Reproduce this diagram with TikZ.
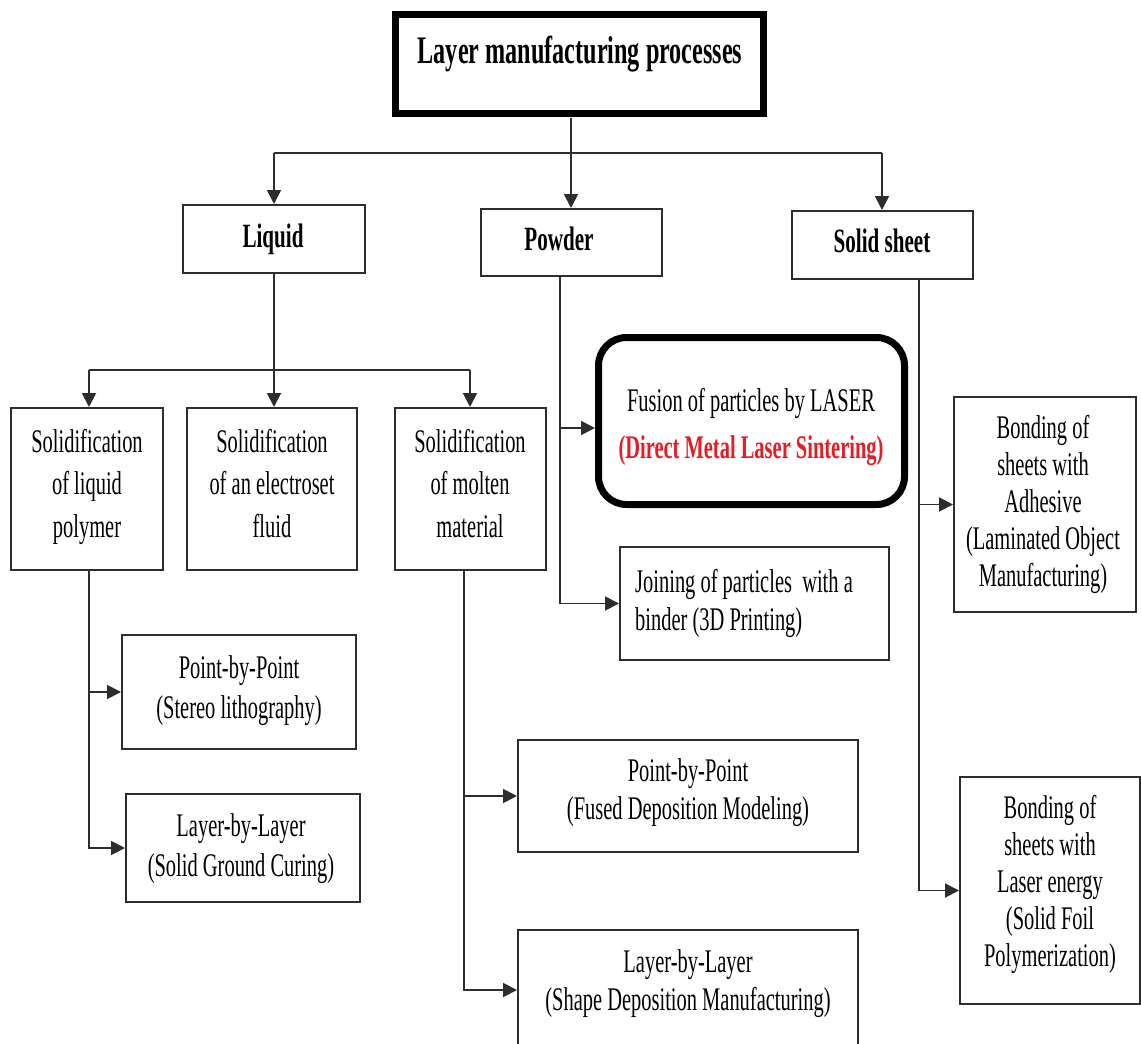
\documentclass[tikz,border=0pt]{standalone}
\usepackage{fontspec}
\setmainfont[FakeStretch=0.62]{Liberation Serif}
\usetikzlibrary{arrows.meta}
\definecolor{dmlsred}{RGB}{230,28,38}
\definecolor{linegray}{RGB}{45,45,45}
\begin{document}
\begin{tikzpicture}[x=1pt,y=-1pt,
  box/.style={draw=linegray, line width=2pt, inner sep=0pt, fill=white},
  heavybox/.style={draw=black, line width=7pt, inner sep=0pt, fill=white},
  conn/.style={draw=linegray, line width=1.9pt},
  arr/.style={conn, -{Triangle[length=14pt,width=14pt]}},
  txt/.style={inner sep=0pt, anchor=base, align=center, font=\fontsize{33}{42.5}\selectfont},
  btxt/.style={inner sep=0pt, anchor=base, align=center, font=\fontsize{34}{42}\selectfont\bfseries},
]
\useasboundingbox (0,0) rectangle (1141,1044);
\fill[white] (0,0) rectangle (1141,1044);
\clip (0,0) rectangle (1141,1044);

% boxes
\node[heavybox, minimum width=368pt, minimum height=99pt] (title) at (579.5,64) {};
\node[box, minimum width=182pt, minimum height=68pt] (liquid) at (274,239) {};
\node[box, minimum width=181pt, minimum height=67pt] (powder) at (571.5,242.5) {};
\node[box, minimum width=181pt, minimum height=68pt] (sheet) at (882.5,245) {};
\node[box, minimum width=152pt, minimum height=162pt] (s1) at (87,489) {};
\node[box, minimum width=170pt, minimum height=162pt] (s2) at (272,489) {};
\node[box, minimum width=151pt, minimum height=162pt] (s3) at (470.5,489) {};
\node[box, minimum width=234pt, minimum height=114pt] (sl) at (239,692) {};
\node[box, minimum width=234pt, minimum height=108pt] (sgc) at (243,848) {};
\node[box, minimum width=340pt, minimum height=112pt] (fdm) at (688,796) {};
\node[box, minimum width=340pt, minimum height=120pt] (sdm) at (688,990) {};
\node[heavybox, rounded corners=28pt, minimum width=306pt, minimum height=167pt] (dmls) at (751.5,421) {};
\node[box, minimum width=269pt, minimum height=113pt] (print) at (754.5,603.5) {};
\node[box, minimum width=182pt, minimum height=215pt] (lam) at (1045,504.5) {};
\node[box, minimum width=180pt, minimum height=227pt] (foil) at (1050,890.5) {};

% texts (anchor base = baseline of the last line)
\node[btxt, font=\fontsize{39}{46}\selectfont\bfseries] (ttitle) at (580,63) {Layer manufacturing processes};
\node[btxt] (tliquid) at (273,247) {Liquid};
\node[btxt] (tpowder) at (559,250) {Powder};
\node[btxt] (tsheet) at (882,252) {Solid sheet};
\node[txt] (ts1) at (87,537) {Solidification\\of liquid\\polymer};
\node[txt] (ts2) at (272,537) {Solidification\\of an electroset\\fluid};
\node[txt] (ts3) at (470,537) {Solidification\\of molten\\material};
\node[txt, font=\fontsize{33}{40}\selectfont] (tsl) at (239,718) {Point-by-Point\\(Stereo lithography)};
\node[txt, font=\fontsize{33}{40}\selectfont] (tsgc) at (241,876) {Layer-by-Layer\\(Solid Ground Curing)};
\node[txt, font=\fontsize{33}{38}\selectfont] (tfdm) at (688,819) {Point-by-Point\\(Fused Deposition Modeling)};
\node[txt, font=\fontsize{33}{38}\selectfont] (tsdm) at (688,1010) {Layer-by-Layer\\(Shape Deposition Manufacturing)};
\node[txt, font=\fontsize{33}{47}\selectfont] (tdmls) at (751,458) {Fusion of particles by LASER\\{\bfseries\color{dmlsred}(Direct Metal Laser Sintering)}};
\node[txt, anchor=base west, align=left, font=\fontsize{33}{38}\selectfont] (tprint) at (635,630) {Joining of particles~ with a\\binder (3D Printing)};
\node[txt, font=\fontsize{33}{37}\selectfont] (tlam) at (1043,586) {Bonding of\\sheets with\\Adhesive\\(Laminated Object\\Manufacturing)};
\node[txt, font=\fontsize{33}{37}\selectfont] (tfoil) at (1050,966) {Bonding of\\sheets with\\Laser energy\\(Solid Foil\\Polymerization)};

% connectors
\coordinate (topdrop) at (571,117.5);
\coordinate (busL) at (274,153);
\coordinate (busR) at (882,153);
\draw[arr] (topdrop) -- (topdrop |- powder.north);
\draw[conn] (busL) -- (busR);
\draw[arr] (busL) -- (busL |- liquid.north);
\draw[arr] (busR) -- (busR |- sheet.north);

\coordinate (lbus) at (274,370);
\coordinate (lbL) at (89,370);
\coordinate (lbR) at (470,370);
\draw[conn] (liquid.south) -- (lbus);
\draw[conn] (lbL) -- (lbR);
\draw[arr] (lbL) -- (lbL |- s1.north);
\draw[arr] (lbus) -- (lbus |- s2.north);
\draw[arr] (lbR) -- (lbR |- s3.north);

\coordinate (v1) at (89,570);
\draw[arr] (v1) |- (sl.west);
\draw[arr] (v1) |- (sgc.west);

\coordinate (v3) at (464,570);
\draw[arr] (v3) |- (fdm.west);
\draw[arr] (v3) |- (sdm.west);

\coordinate (pw) at (560,276);
\draw[arr] (pw) |- ([yshift=-7pt]dmls.west);
\draw[arr] (pw) |- (print.west);

\coordinate (ss) at (919,279);
\draw[arr] (ss) |- (lam.west);
\draw[arr] (ss) |- (foil.west);
\end{tikzpicture}
\end{document}
